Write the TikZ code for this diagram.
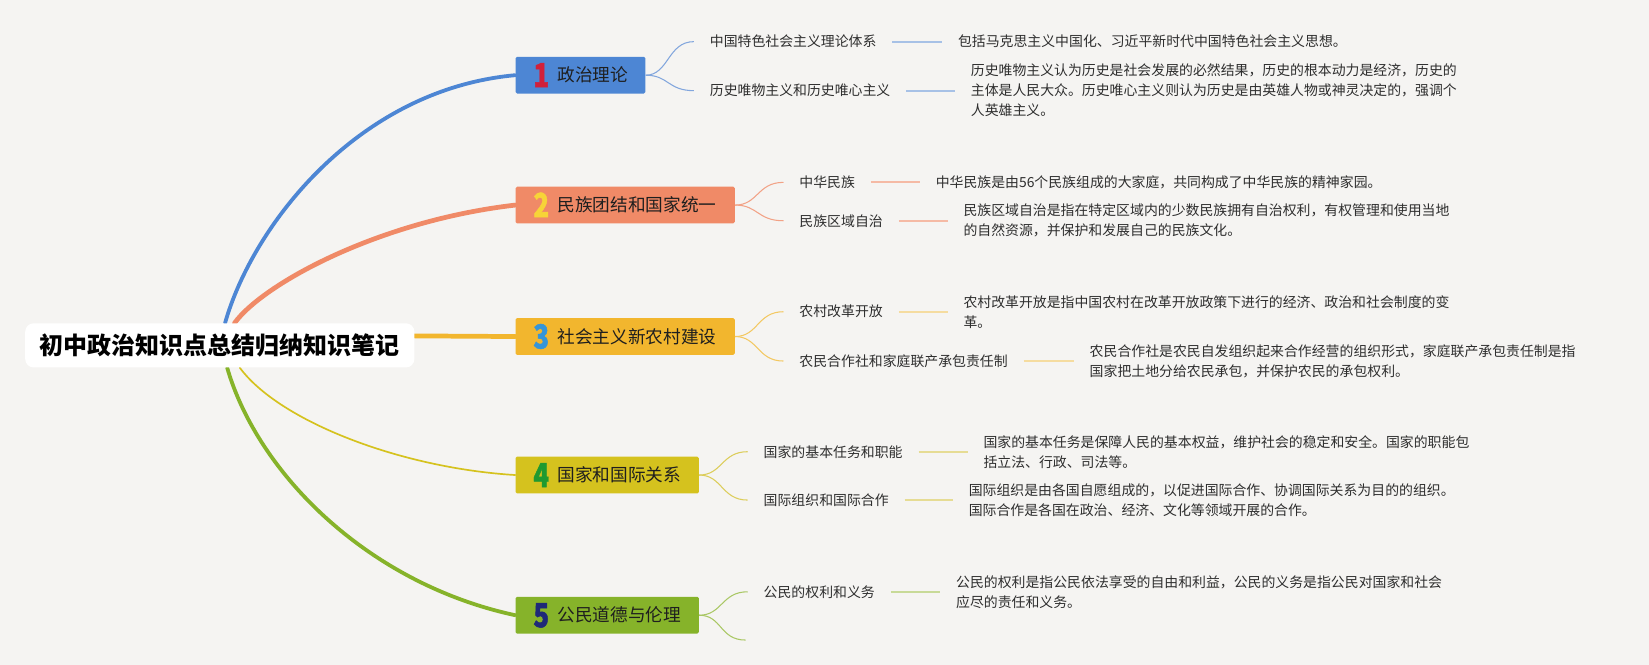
\documentclass[tikz,border=0pt]{standalone}
\usepackage{fontspec}
\newfontfamily\cjk{Noto Sans CJK SC}
\newfontfamily\numfont{Noto Sans CJK SC}[BoldFeatures={FakeBold=1.6}]
\usetikzlibrary{calc}
\definecolor{bgc}{HTML}{F5F4F2}
\definecolor{cA}{HTML}{4D86D4}\definecolor{lA}{HTML}{A7C1E6}\definecolor{kA}{HTML}{82A6DD}
\definecolor{cB}{HTML}{F08A67}\definecolor{lB}{HTML}{F5BAA5}\definecolor{kB}{HTML}{F2A286}
\definecolor{cC}{HTML}{F2B62E}\definecolor{lC}{HTML}{F5DCA0}\definecolor{kC}{HTML}{F3C862}
\definecolor{cD}{HTML}{D5C21E}\definecolor{lD}{HTML}{E6DC94}\definecolor{kD}{HTML}{DCCD5A}
\definecolor{cE}{HTML}{86B32A}\definecolor{lE}{HTML}{C8DA98}\definecolor{kE}{HTML}{A9C764}
\definecolor{nA}{HTML}{D2203A}
\definecolor{nB}{HTML}{F7D438}
\definecolor{nC}{HTML}{3595D8}
\definecolor{nD}{HTML}{1F9A30}
\definecolor{nE}{HTML}{1E2A78}
\newcommand\topicnum[2]{\makebox[23pt][l]{\raisebox{-5pt}[0pt][0pt]{\color{#1}\numfont\bfseries\fontsize{31.5}{32}\selectfont\scalebox{0.78}[1]{#2}}}}
\begin{document}
\begin{tikzpicture}[x=1pt,y=-1pt,
  topicbox/.style={rectangle, rounded corners=1.5pt, fill=#1, anchor=west, minimum height=35pt, inner sep=0pt, font=\cjk\fontsize{16.8}{18}\selectfont, text=black!88},
  subtxt/.style={anchor=west, inner sep=0pt, font=\cjk\fontsize{13.2}{19}\selectfont, text=black!82},
  dettxt/.style={anchor=west, inner sep=0pt, align=left, font=\cjk\fontsize{13.2}{19}\selectfont, text=black!82},
  mainlink/.style={draw=#1, line cap=round},
  sublink/.style={draw=#1, line width=1pt},
  barlink/.style={draw=#1, line width=2pt},
]
\fill[bgc] (0,0) rectangle (1568,632.3);
\useasboundingbox (0,0) rectangle (1568,632.3);

% topic boxes
\node[topicbox=cA] (b1) at (490,71.5) {\makebox[123.5pt][l]{\hspace{17pt}\topicnum{nA}{1}政治理论}};
\node[topicbox=cB] (b2) at (490,195) {\makebox[208.5pt][l]{\hspace{17pt}\topicnum{nB}{2}民族团结和国家统一}};
\node[topicbox=cC] (b3) at (490,320) {\makebox[208.5pt][l]{\hspace{17pt}\topicnum{nC}{3}社会主义新农村建设}};
\node[topicbox=cD] (b4) at (490,451.7) {\makebox[174.4pt][l]{\hspace{17pt}\topicnum{nD}{4}国家和国际关系}};
\node[topicbox=cE] (b5) at (490,585) {\makebox[174.4pt][l]{\hspace{17pt}\topicnum{nE}{5}公民道德与伦理}};

% root position
\path (209,328.4) node[minimum width=370pt, minimum height=42pt, inner sep=0pt] (rootpos) {};

% main links
\draw[mainlink=cA, line width=3.6pt] ([xshift=5pt]rootpos.north) .. controls (240,215) and (340,85) .. (b1.west);
\draw[mainlink=cB, line width=4.5pt] ([xshift=14pt]rootpos.north) .. controls (250,270) and (360,210) .. (b2.west);
\draw[mainlink=cC, line width=4.5pt] ([yshift=9pt]rootpos.east) -- (b3.west);
\draw[mainlink=cD, line width=1.6pt] ([xshift=19pt]rootpos.south) .. controls (265,400) and (380,445) .. (b4.west);
\draw[mainlink=cE, line width=3.6pt] ([xshift=7pt]rootpos.south) .. controls (245,450) and (350,555) .. (b5.west);

\node[fill=white, rounded corners=8pt, minimum width=370pt, minimum height=42pt, inner sep=0pt,
      font=\cjk\bfseries\fontsize{22.8}{24}\selectfont, text=black] (root) at (rootpos) {初中政治知识点总结归纳知识笔记};

% branch 1
\node[subtxt] (s11) at (674.8,39.6) {中国特色社会主义理论体系};
\node[subtxt] (s12) at (674.8,86.2) {历史唯物主义和历史唯心主义};
\node[dettxt] (d11) at (910.8,39.6) {包括马克思主义中国化、习近平新时代中国特色社会主义思想。};
\node[dettxt] (d12) at (923,86.2) {历史唯物主义认为历史是社会发展的必然结果，历史的根本动力是经济，历史的\\主体是人民大众。历史唯心主义则认为历史是由英雄人物或神灵决定的，强调个\\人英雄主义。};
\draw[sublink=kA] (b1.east) .. controls +(22,0) and +(-25,0) .. ([xshift=-15pt]s11.west);
\draw[sublink=kA] (b1.east) .. controls +(22,0) and +(-25,0) .. ([xshift=-15pt]s12.west);
\draw[barlink=lA] ([xshift=15pt]s11.east) -- ([xshift=-15pt]d11.west);
\draw[barlink=lA] ([xshift=15pt]s12.east) -- ([xshift=-15pt]d12.west);

% branch 2
\node[subtxt] (s21) at (760,173.4) {中华民族};
\node[subtxt] (s22) at (760,209.9) {民族区域自治};
\node[dettxt] (d21) at (889.6,173.4) {中华民族是由56个民族组成的大家庭，共同构成了中华民族的精神家园。};
\node[dettxt] (d22) at (916,209.9) {民族区域自治是指在特定区域内的少数民族拥有自治权利，有权管理和使用当地\\的自然资源，并保护和发展自己的民族文化。};
\draw[sublink=kB] (b2.east) .. controls +(22,0) and +(-25,0) .. ([xshift=-15pt]s21.west);
\draw[sublink=kB] (b2.east) .. controls +(22,0) and +(-25,0) .. ([xshift=-15pt]s22.west);
\draw[barlink=lB] ([xshift=15pt]s21.east) -- ([xshift=-15pt]d21.west);
\draw[barlink=lB] ([xshift=15pt]s22.east) -- ([xshift=-15pt]d22.west);

% branch 3
\node[subtxt] (s31) at (760,296.4) {农村改革开放};
\node[subtxt] (s32) at (760,343.3) {农民合作社和家庭联产承包责任制};
\node[dettxt] (d31) at (916,296.4) {农村改革开放是指中国农村在改革开放政策下进行的经济、政治和社会制度的变\\革。};
\node[dettxt] (d32) at (1036,343.3) {农民合作社是农民自发组织起来合作经营的组织形式，家庭联产承包责任制是指\\国家把土地分给农民承包，并保护农民的承包权利。};
\draw[sublink=kC] (b3.east) .. controls +(22,0) and +(-25,0) .. ([xshift=-15pt]s31.west);
\draw[sublink=kC] (b3.east) .. controls +(22,0) and +(-25,0) .. ([xshift=-15pt]s32.west);
\draw[barlink=lC] ([xshift=15pt]s31.east) -- ([xshift=-15pt]d31.west);
\draw[barlink=lC] ([xshift=15pt]s32.east) -- ([xshift=-15pt]d32.west);

% branch 4
\node[subtxt] (s41) at (726,429.5) {国家的基本任务和职能};
\node[subtxt] (s42) at (726,475.5) {国际组织和国际合作};
\node[dettxt] (d41) at (935,429.5) {国家的基本任务是保障人民的基本权益，维护社会的稳定和安全。国家的职能包\\括立法、行政、司法等。};
\node[dettxt] (d42) at (921,475.5) {国际组织是由各国自愿组成的，以促进国际合作、协调国际关系为目的的组织。\\国际合作是各国在政治、经济、文化等领域开展的合作。};
\draw[sublink=kD] (b4.east) .. controls +(22,0) and +(-25,0) .. ([xshift=-15pt]s41.west);
\draw[sublink=kD] (b4.east) .. controls +(22,0) and +(-25,0) .. ([xshift=-15pt]s42.west);
\draw[barlink=lD] ([xshift=15pt]s41.east) -- ([xshift=-15pt]d41.west);
\draw[barlink=lD] ([xshift=15pt]s42.east) -- ([xshift=-15pt]d42.west);

% branch 5
\node[subtxt] (s51) at (726,562.7) {公民的权利和义务};
\coordinate (e52) at (709,608.6);
\node[dettxt] (d51) at (909,562.7) {公民的权利是指公民依法享受的自由和利益，公民的义务是指公民对国家和社会\\应尽的责任和义务。};
\draw[sublink=kE] (b5.east) .. controls +(22,0) and +(-25,0) .. ([xshift=-15pt]s51.west);
\draw[sublink=kE] (b5.east) .. controls +(22,0) and +(-25,0) .. (e52);
\draw[barlink=lE] ([xshift=15pt]s51.east) -- ([xshift=-15pt]d51.west);
\end{tikzpicture}
\end{document}
